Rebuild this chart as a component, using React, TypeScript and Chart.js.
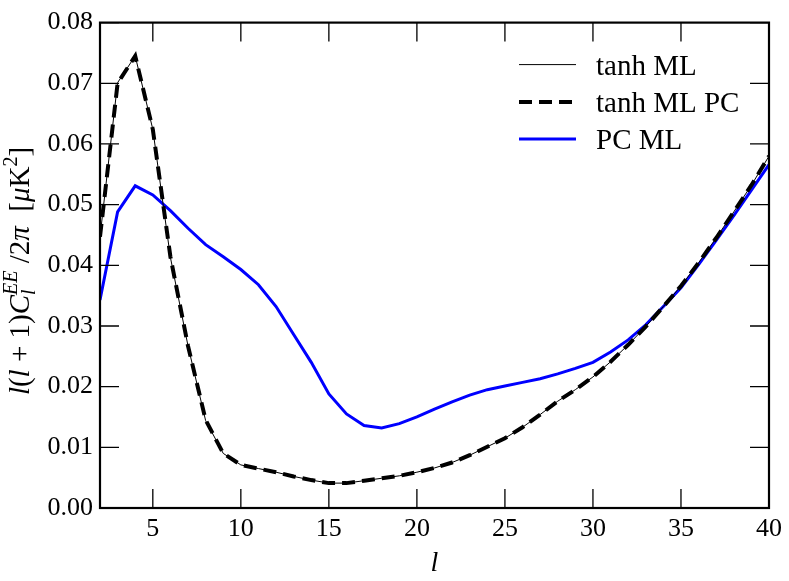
import React, { useEffect, useRef } from 'react';
import { Chart, registerables } from 'chart.js';

Chart.register(...registerables);

// ---- data ----
const ells = [2, 3, 4, 5, 6, 7, 8, 9, 10, 11, 12, 13, 14, 15, 16, 17, 18, 19, 20, 21, 22, 23, 24, 25, 26, 27, 28, 29, 30, 31, 32, 33, 34, 35, 36, 37, 38, 39, 40];

const tanhML = [0.0447, 0.0701, 0.0745, 0.0624, 0.0413, 0.0267, 0.0144, 0.0090, 0.0071, 0.0065, 0.0059, 0.0052, 0.0046, 0.0041, 0.0041, 0.0045, 0.0049, 0.0053, 0.0059, 0.0066, 0.0075, 0.0087, 0.0101, 0.0115, 0.0133, 0.0154, 0.0176, 0.0195, 0.0216, 0.0241, 0.0269, 0.0299, 0.0332, 0.0366, 0.0404, 0.0445, 0.0488, 0.0532, 0.0580];

const tanhMLPC = [0.0447, 0.0700, 0.0745, 0.0624, 0.0414, 0.0267, 0.0145, 0.0090, 0.0071, 0.0065, 0.0059, 0.0052, 0.0046, 0.0041, 0.0041, 0.0045, 0.0049, 0.0053, 0.0059, 0.0066, 0.0075, 0.0087, 0.0101, 0.0115, 0.0133, 0.0154, 0.0176, 0.0195, 0.0216, 0.0241, 0.0269, 0.0299, 0.0332, 0.0366, 0.0404, 0.0445, 0.0488, 0.0532, 0.0580];

const pcML = [0.0343, 0.0488, 0.0531, 0.0516, 0.0490, 0.0461, 0.0434, 0.0414, 0.0393, 0.0368, 0.0332, 0.0286, 0.0240, 0.0188, 0.0155, 0.0136, 0.0132, 0.0139, 0.0150, 0.0163, 0.0175, 0.0186, 0.0195, 0.0201, 0.0207, 0.0213, 0.0221, 0.0230, 0.0240, 0.0257, 0.0277, 0.0302, 0.0332, 0.0363, 0.0401, 0.0441, 0.0482, 0.0524, 0.0566];

const seriesLabels = ['tanh ML', 'tanh ML PC', 'PC ML'];
const xTicks = [5, 10, 15, 20, 25, 30, 35, 40];
const yTicks = [0, 0.01, 0.02, 0.03, 0.04, 0.05, 0.06, 0.07, 0.08];
const xTitle = 'l';
// y title pieces: [text, kind] kind: n = normal, i = italic, sub / sup = script italic, supn = script normal
const yTitleParts: [string, string][] = [
  ['l', 'i'], ['(', 'n'], ['l', 'i'], [' + 1)', 'n'], ['C', 'i'], ['l', 'sub'], ['EE', 'sup'],
  [' /2', 'n'], ['π', 'i'], ['  [', 'n'], ['μ', 'i'], ['K', 'n'], ['2', 'supn'], [']', 'n'],
];

const FONT = '"Liberation Serif", "Times New Roman", serif';

const framePlugin = {
  id: 'frameTicks',
  afterDatasetsDraw(chart: any) {
    const { ctx, chartArea: a, scales } = chart;
    const L = 19;
    ctx.save();
    ctx.strokeStyle = '#000';
    ctx.lineWidth = 1.3;
    ctx.beginPath();
    for (const t of xTicks) {
      const px = scales.x.getPixelForValue(t);
      ctx.moveTo(px, a.bottom); ctx.lineTo(px, a.bottom - L);
      ctx.moveTo(px, a.top); ctx.lineTo(px, a.top + L);
    }
    for (const t of yTicks) {
      const py = scales.y.getPixelForValue(t);
      ctx.moveTo(a.left, py); ctx.lineTo(a.left + L, py);
      ctx.moveTo(a.right, py); ctx.lineTo(a.right - L, py);
    }
    ctx.stroke();
    ctx.lineWidth = 2.2;
    ctx.strokeRect(a.left, a.top, a.right - a.left, a.bottom - a.top);
    ctx.restore();
  },
};

const legendPlugin = {
  id: 'mplLegend',
  afterDraw(chart: any) {
    const { ctx, chartArea: a } = chart;
    const x0 = a.right - 250;
    const x1 = a.right - 193;
    const tx = a.right - 173;
    const rows = [a.top + 42, a.top + 79.5, a.top + 116.5];
    ctx.save();
    chart.data.datasets.forEach((ds: any, i: number) => {
      const y = rows[i];
      ctx.beginPath();
      ctx.strokeStyle = ds.borderColor;
      ctx.lineWidth = ds.borderWidth;
      ctx.setLineDash(ds.borderDash || []);
      ctx.moveTo(x0, y);
      ctx.lineTo(x1, y);
      ctx.stroke();
      ctx.setLineDash([]);
      ctx.fillStyle = '#000';
      ctx.font = `29px ${FONT}`;
      ctx.textBaseline = 'alphabetic';
      ctx.textAlign = 'left';
      ctx.fillText(ds.label, tx, y + 10);
    });
    ctx.restore();
  },
};

const yTitlePlugin = {
  id: 'yTitleRich',
  afterDraw(chart: any) {
    const { ctx, chartArea: a } = chart;
    const fontFor = (kind: string) => {
      if (kind === 'n') return `29px ${FONT}`;
      if (kind === 'i') return `italic 29px ${FONT}`;
      if (kind === 'supn') return `20px ${FONT}`;
      return `italic 20px ${FONT}`;
    };
    const shiftFor = (kind: string) => (kind === 'sub' ? -6 : kind === 'sup' || kind === 'supn' ? 12 : 0);
    const items: { t: string; k: string; w: number; adv: number }[] = [];
    for (let i = 0; i < yTitleParts.length; i++) {
      const [t, k] = yTitleParts[i];
      ctx.font = fontFor(k);
      const w = ctx.measureText(t).width;
      items.push({ t, k, w, adv: w });
    }
    for (let i = 0; i < items.length - 1; i++) {
      if (items[i].k === 'sub' && items[i + 1].k === 'sup') {
        const m = Math.max(items[i].w, items[i + 1].w);
        items[i].adv = 0;
        items[i + 1].adv = m;
      }
    }
    const total = items.reduce((s, it) => s + it.adv, 0);
    const cx = 29;
    const cy = 271;
    ctx.save();
    ctx.translate(cx, cy);
    ctx.rotate(-Math.PI / 2);
    ctx.fillStyle = '#000';
    ctx.textBaseline = 'alphabetic';
    ctx.textAlign = 'left';
    let x = -total / 2;
    for (const it of items) {
      ctx.font = fontFor(it.k);
      ctx.fillText(it.t, x, -shiftFor(it.k));
      x += it.adv;
    }
    ctx.restore();
  },
};

export default function App() {
  const ref = useRef<HTMLCanvasElement | null>(null);

  useEffect(() => {
    const canvas = ref.current;
    if (!canvas) return;
    const chart = new Chart(canvas, {
      type: 'line',
      data: {
        labels: ells,
        datasets: [
          {
            label: seriesLabels[0],
            data: ells.map((l, i) => ({ x: l, y: tanhML[i] })),
            borderColor: '#000000',
            borderWidth: 1,
            pointRadius: 0,
            tension: 0,
            fill: false,
            order: 0,
          },
          {
            label: seriesLabels[1],
            data: ells.map((l, i) => ({ x: l, y: tanhMLPC[i] })),
            borderColor: '#000000',
            borderWidth: 4,
            borderDash: [13, 7],
            pointRadius: 0,
            tension: 0,
            fill: false,
            order: 1,
          },
          {
            label: seriesLabels[2],
            data: ells.map((l, i) => ({ x: l, y: pcML[i] })),
            borderColor: '#0000ff',
            borderWidth: 3,
            pointRadius: 0,
            tension: 0,
            fill: false,
            order: 2,
          },
        ],
      },
      options: {
        animation: false,
        responsive: false,
        devicePixelRatio: 1,
        layout: { padding: { top: 20, right: 20, left: 0, bottom: 0 } },
        plugins: {
          legend: { display: false },
          tooltip: { enabled: false },
        },
        scales: {
          x: {
            type: 'linear',
            min: 2,
            max: 40,
            grid: { display: false, drawTicks: false },
            border: { display: false },
            afterBuildTicks: (axis: any) => {
              axis.ticks = xTicks.map((v) => ({ value: v }));
            },
            afterFit: (axis: any) => {
              axis.height = 73;
            },
            ticks: {
              color: '#000',
              padding: 6,
              font: { family: FONT, size: 26 },
              maxRotation: 0,
              callback: (v: any) => String(v),
            },
            title: {
              display: true,
              text: xTitle,
              color: '#000',
              font: { family: FONT, size: 28, style: 'italic' },
              padding: { top: 0, bottom: 1 },
            },
          },
          y: {
            type: 'linear',
            min: 0,
            max: 0.08,
            grid: { display: false, drawTicks: false },
            border: { display: false },
            afterBuildTicks: (axis: any) => {
              axis.ticks = yTicks.map((v) => ({ value: v }));
            },
            afterFit: (axis: any) => {
              axis.width = 100;
            },
            ticks: {
              color: '#000',
              padding: 7,
              font: { family: FONT, size: 26 },
              callback: (v: any) => Number(v).toFixed(2),
            },
          },
        },
      },
      plugins: [framePlugin, legendPlugin, yTitlePlugin],
    } as any);
    return () => chart.destroy();
  }, []);

  return (
    <div style={{ position: 'absolute', left: 0, top: 0, width: 789, height: 581, background: '#fff' }}>
      <canvas ref={ref} width={789} height={581} style={{ display: 'block' }} />
    </div>
  );
}
